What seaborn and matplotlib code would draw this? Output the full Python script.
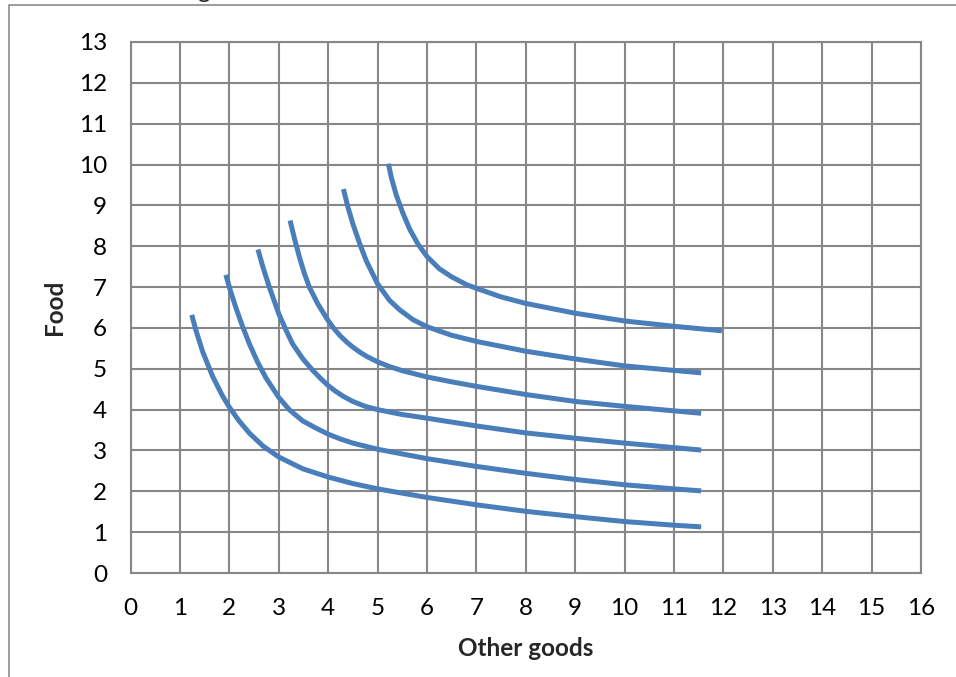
import numpy as np
import pandas as pd
import matplotlib
matplotlib.use('Agg')
import matplotlib.pyplot as plt
from matplotlib.lines import Line2D
import seaborn as sns

# ------------------------------------------------------------
# Data: six indifference curves
# ------------------------------------------------------------
c1_x = [1.24, 1.32, 1.46, 1.66, 1.86, 2.0, 2.2, 2.41, 2.68, 3.0, 3.49, 4.0, 4.5, 5.0,
        6.0, 7.0, 8.0, 9.0, 10.0, 11.0, 11.55]
c1_y = [6.32, 5.96, 5.42, 4.82, 4.34, 4.06, 3.72, 3.42, 3.11, 2.84, 2.55, 2.35, 2.19, 2.06,
        1.85, 1.67, 1.51, 1.38, 1.26, 1.17, 1.13]

c2_x = [1.93, 2.03, 2.14, 2.27, 2.41, 2.57, 2.74, 3.0, 3.22, 3.49, 3.75, 4.0, 4.25, 4.5, 5.0,
        6.0, 7.0, 8.0, 9.0, 10.0, 11.0, 11.55]
c2_y = [7.3, 6.88, 6.47, 6.03, 5.6, 5.17, 4.78, 4.3, 3.99, 3.72, 3.55, 3.4, 3.28, 3.18, 3.03,
        2.8, 2.61, 2.44, 2.29, 2.16, 2.06, 2.01]

c3_x = [2.58, 2.68, 2.81, 3.0, 3.15, 3.28, 3.49, 3.69, 3.85, 4.0, 4.15, 4.3, 4.5, 4.75, 5.0,
        5.5, 6.0, 7.0, 8.0, 9.0, 10.0, 11.0, 11.55]
c3_y = [7.92, 7.49, 7.0, 6.35, 5.94, 5.61, 5.24, 4.96, 4.76, 4.59, 4.45, 4.33, 4.2, 4.08, 4.0,
        3.88, 3.79, 3.6, 3.43, 3.3, 3.18, 3.07, 3.01]

c4_x = [3.23, 3.32, 3.42, 3.52, 3.62, 3.79, 4.0, 4.12, 4.25, 4.38, 4.5, 4.65, 4.8, 5.0,
        5.25, 5.51, 6.0, 6.5, 7.0, 8.0, 9.0, 10.0, 11.0, 11.55]
c4_y = [8.63, 8.18, 7.73, 7.33, 7.0, 6.59, 6.18, 5.98, 5.80, 5.65, 5.53, 5.40, 5.29, 5.17,
        5.05, 4.95, 4.8, 4.68, 4.57, 4.37, 4.2, 4.08, 3.97, 3.91]

c5_x = [4.31, 4.4, 4.5, 4.64, 4.77, 5.0, 5.24, 5.45, 5.72, 6.0, 6.5,
        7.0, 8.0, 9.0, 10.0, 11.0, 11.55]
c5_y = [9.40, 8.96, 8.55, 8.06, 7.65, 7.08, 6.68, 6.44, 6.2, 6.03, 5.82,
        5.67, 5.43, 5.24, 5.07, 4.96, 4.9]

c6_x = [5.22, 5.28, 5.38, 5.51, 5.65, 5.82, 6.0, 6.25, 6.5, 6.8, 7.0, 7.5,
        8.0, 9.0, 10.0, 11.0, 11.97]
c6_y = [10.02, 9.68, 9.25, 8.82, 8.42, 8.05, 7.75, 7.45, 7.25, 7.06, 6.97, 6.76,
        6.6, 6.36, 6.17, 6.04, 5.93]

x_ticks = list(range(0, 17))
y_ticks = list(range(0, 14))

curves = [(c1_x, c1_y), (c2_x, c2_y), (c3_x, c3_y),
          (c4_x, c4_y), (c5_x, c5_y), (c6_x, c6_y)]
frames = []
for i, (cx, cy) in enumerate(curves):
    frames.append(pd.DataFrame({'other': cx, 'food': cy, 'curve': i}))
df = pd.concat(frames, ignore_index=True)

# ------------------------------------------------------------
# Style
# ------------------------------------------------------------
sns.set_style('white')
plt.rcParams['font.family'] = ['Lato', 'DejaVu Sans']

BLUE = '#4a7ebb'
GRID = '#878787'
FS = 17.5

fig = plt.figure(figsize=(9.56, 6.77), dpi=100)
ax = fig.add_axes([130.5 / 956, 1 - 573 / 677, (921 - 130.5) / 956, (573 - 42) / 677])

sns.lineplot(data=df, x='other', y='food', units='curve', estimator=None,
             sort=False, color=BLUE, linewidth=3.6, ax=ax,
             solid_capstyle='butt', solid_joinstyle='round', legend=False)

ax.set_xlim(0, 16)
ax.set_ylim(0, 13)
ax.set_xticks(x_ticks)
ax.set_yticks(y_ticks)
ax.grid(True, color=GRID, linewidth=1.5)
ax.set_axisbelow(True)
for s in ax.spines.values():
    s.set_color(GRID)
    s.set_linewidth(1.5)

ax.tick_params(axis='both', direction='out', length=6, width=1.5,
               color=GRID, labelsize=FS, labelcolor='black')
ax.tick_params(axis='x', pad=12)
ax.tick_params(axis='y', pad=11)

ax.set_xlabel('Other goods', fontsize=FS, fontweight='bold', labelpad=13)
ax.set_ylabel('Food', fontsize=FS, fontweight='bold', labelpad=9)

# outer frame of the embedded chart (top and left edges visible)
fig.add_artist(Line2D([8.5 / 956, 8.5 / 956, 1.0], [0.0, 1 - 5 / 677, 1 - 5 / 677],
                      transform=fig.transFigure, color='#8c8c8c', linewidth=1.2))
# cropped caption fragment above the frame
fig.text(197 / 956, 1 + 2 / 677, 'g', fontsize=FS, va='baseline', ha='left')

plt.savefig('out.png', dpi=100)
